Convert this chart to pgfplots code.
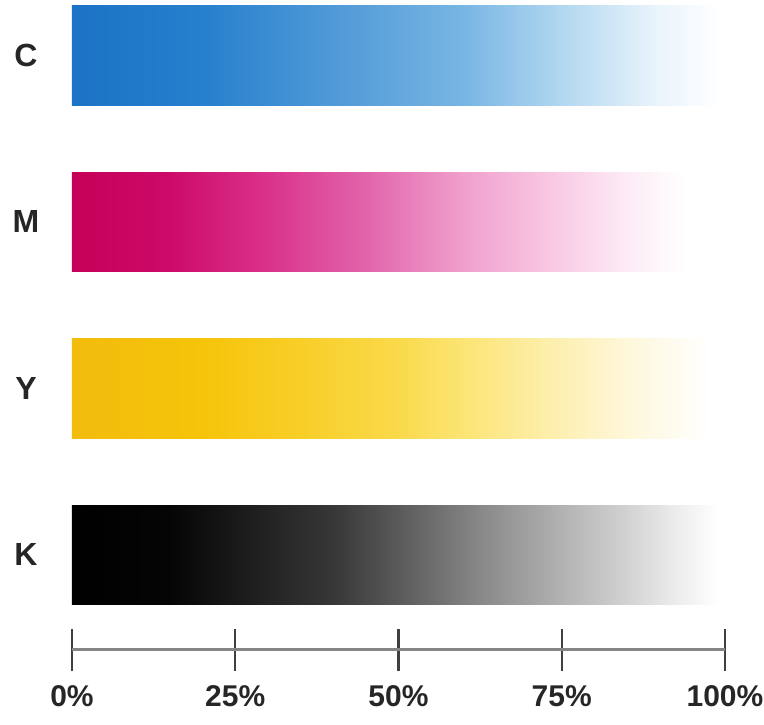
\documentclass[border=0pt]{standalone}
\usepackage{pgfplots}
\pgfplotsset{compat=1.18}
\usepackage{fontspec}
\setmainfont{Liberation Sans}

% Cyan
\definecolor{ca}{RGB}{28,115,198}
\definecolor{cb}{RGB}{38,128,205}
\definecolor{cc}{RGB}{90,160,218}
\definecolor{cd}{RGB}{120,182,228}
\definecolor{ce}{RGB}{178,215,240}
\definecolor{cf}{RGB}{232,243,251}
% Magenta
\definecolor{ma}{RGB}{198,0,88}
\definecolor{mb}{RGB}{205,10,105}
\definecolor{mc}{RGB}{218,50,140}
\definecolor{md}{RGB}{226,100,170}
\definecolor{me}{RGB}{240,160,205}
\definecolor{mf}{RGB}{250,205,230}
\definecolor{mg}{RGB}{253,235,245}
% Yellow
\definecolor{ya}{RGB}{242,188,12}
\definecolor{yb}{RGB}{246,196,10}
\definecolor{yc}{RGB}{248,206,40}
\definecolor{yd}{RGB}{250,218,75}
\definecolor{ye}{RGB}{252,230,125}
\definecolor{yf}{RGB}{253,240,180}
\definecolor{yg}{RGB}{254,249,228}
% Black
\definecolor{ka}{RGB}{0,0,0}
\definecolor{kb}{RGB}{5,5,5}
\definecolor{kc}{RGB}{25,25,25}
\definecolor{kd}{RGB}{55,55,55}
\definecolor{ke}{RGB}{90,90,90}
\definecolor{kf}{RGB}{138,138,138}
\definecolor{kg}{RGB}{178,178,178}
\definecolor{kh}{RGB}{210,210,210}
\definecolor{ki}{RGB}{238,238,238}

% stop at p% of the bar -> (25 + p/2)bp
\pgfdeclarehorizontalshading{cshade}{100bp}{color(0bp)=(ca); color(25bp)=(ca); color(35bp)=(cb); color(47.5bp)=(cc); color(55bp)=(cd); color(62.5bp)=(ce); color(69.5bp)=(cf); color(74.5bp)=(white); color(100bp)=(white)}
\pgfdeclarehorizontalshading{mshade}{100bp}{color(0bp)=(ma); color(25bp)=(ma); color(32.5bp)=(mb); color(40bp)=(mc); color(47.5bp)=(md); color(55bp)=(me); color(62.5bp)=(mf); color(67.5bp)=(mg); color(72bp)=(white); color(100bp)=(white)}
\pgfdeclarehorizontalshading{yshade}{100bp}{color(0bp)=(ya); color(25bp)=(ya); color(35bp)=(yb); color(42.5bp)=(yc); color(50bp)=(yd); color(56bp)=(ye); color(62.5bp)=(yf); color(69bp)=(yg); color(74bp)=(white); color(100bp)=(white)}
\pgfdeclarehorizontalshading{kshade}{100bp}{color(0bp)=(ka); color(25bp)=(ka); color(32.5bp)=(kb); color(37.5bp)=(kc); color(45bp)=(kd); color(50bp)=(ke); color(56.5bp)=(kf); color(62.5bp)=(kg); color(67.5bp)=(kh); color(71.5bp)=(ki); color(74.5bp)=(white); color(100bp)=(white)}

\begin{document}
\begin{tikzpicture}
\begin{axis}[
  at={(0,0)}, anchor=south west,
  scale only axis, width=653pt, height=650pt,
  xmin=0, xmax=100, ymin=-0.5706, ymax=3.3333,
  axis x line=bottom, axis y line=left,
  axis line style={-},
  x axis line style={draw=black!48, line width=3pt},
  y axis line style={draw=none},
  xtick={0,25,50,75,100},
  xticklabels={0\%,25\%,50\%,75\%,100\%},
  ytick={0,1,2,3},
  yticklabels={K,Y,M,C},
  major tick length=42pt, tick align=center,
  xtick style={draw=black!75, line width=2.2pt},
  ytick style={draw=none},
  xticklabel style={font=\bfseries\fontsize{30}{36}\selectfont, text=black!85, yshift=-11pt},
  yticklabel style={font=\bfseries\fontsize{32}{38}\selectfont, text=black!85, anchor=center, xshift=-25pt},
  clip=false,
]
\addplot[xbar, bar width=0.595, bar shift=0pt, draw=none, shade, shading=cshade] coordinates {(100,3)};
\addplot[xbar, bar width=0.595, bar shift=0pt, draw=none, shade, shading=mshade] coordinates {(100,2)};
\addplot[xbar, bar width=0.595, bar shift=0pt, draw=none, shade, shading=yshade] coordinates {(100,1)};
\addplot[xbar, bar width=0.595, bar shift=0pt, draw=none, shade, shading=kshade] coordinates {(100,0)};
\end{axis}
\pgfresetboundingbox
\path (-72pt,-75pt) rectangle (692pt,650pt);
\end{tikzpicture}
\end{document}
